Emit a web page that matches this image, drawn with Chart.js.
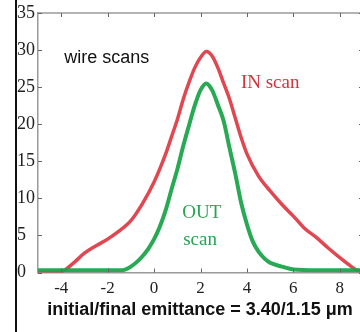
<!DOCTYPE html>
<html>
<head>
<meta charset="utf-8">
<script src="https://cdn.jsdelivr.net/npm/chart.js@4.4.1/dist/chart.umd.min.js"></script>
<style>
  html, body { margin: 0; padding: 0; background: #fff; overflow: hidden; width: 360px; height: 332px; }
  #wrap { position: relative; width: 366px; height: 332px; }
</style>
</head>
<body>
<div id="wrap"><canvas id="c" width="366" height="332"></canvas></div>
<script>
// ---- data ----
const xTickValues = [-4, -2, 0, 2, 4, 6, 8];
const yTickValues = [0, 5, 10, 15, 20, 25, 30, 35];

const inX = [-5, -4.5, -4, -3.5, -3, -2.5, -2, -1.5, -1, -0.5, 0, 0.5, 0.75, 1.0, 1.25, 1.5, 1.75, 2.0, 2.25, 2.5, 2.75, 3.0, 3.25, 3.5, 3.75, 4.0, 4.5, 5.0, 5.5, 6.0, 6.5, 7.0, 7.5, 8.0, 8.5, 8.75, 9.0];
const inScan = [0, 0, 0.1, 1.2, 2.6, 3.6, 4.5, 5.6, 7.0, 9.3, 12.2, 16.0, 18.3, 20.6, 23.3, 25.6, 27.6, 29.0, 29.8, 29.2, 27.6, 25.5, 23.4, 20.8, 18.2, 16.0, 13.0, 11.0, 9.2, 7.6, 5.9, 4.7, 3.3, 2.0, 0.8, 0.3, 0.2];

const outX = [-5, -4, -3, -2, -1.5, -1.25, -1.0, -0.75, -0.5, -0.25, 0, 0.25, 0.5, 0.75, 1.0, 1.25, 1.5, 1.75, 2.0, 2.25, 2.5, 2.75, 3.0, 3.25, 3.5, 3.75, 4.0, 4.25, 4.5, 4.75, 5.0, 5.5, 6.0, 7.0, 8.0, 9.0];
const outScan = [0.3, 0.3, 0.3, 0.3, 0.3, 0.4, 0.8, 1.4, 2.2, 3.2, 4.5, 6.2, 8.4, 11.2, 13.9, 17.0, 19.8, 22.5, 24.6, 25.5, 24.6, 22.6, 20.4, 16.8, 13.3, 9.4, 6.5, 4.2, 2.8, 1.9, 1.3, 0.8, 0.4, 0.3, 0.3, 0.3];

const labels = {
  wire: 'wire scans',
  inLabel: 'IN scan',
  out1: 'OUT',
  out2: 'scan',
  caption: 'initial/final emittance = 3.40/1.15 \u03bcm'
};

const RED = 'rgba(222,55,66,0.92)';
const GREEN = 'rgba(28,164,74,0.95)';
const AXIS = '#9a9a9a';

const toPts = (xs, ys) => xs.map((x, i) => ({ x: x, y: ys[i] }));

const decor = {
  id: 'decor',
  afterDraw(chart) {
    const { ctx, chartArea: a, scales: { x, y } } = chart;
    ctx.save();
    ctx.strokeStyle = AXIS;
    ctx.lineWidth = 1.5;
    ctx.beginPath();
    ctx.moveTo(a.left, a.top); ctx.lineTo(a.right, a.top);
    ctx.moveTo(a.right, a.top); ctx.lineTo(a.right, a.bottom);
    ctx.stroke();
    ctx.strokeStyle = '#666';
    ctx.lineWidth = 1;
    ctx.beginPath();
    xTickValues.forEach(v => {
      const px = Math.round(x.getPixelForValue(v)) + 0.5;
      ctx.moveTo(px, a.bottom); ctx.lineTo(px, a.bottom - 4);
      ctx.moveTo(px, a.top); ctx.lineTo(px, a.top + 4);
    });
    yTickValues.forEach(v => {
      const py = Math.round(y.getPixelForValue(v)) + 0.5;
      ctx.moveTo(a.left, py); ctx.lineTo(a.left + 4, py);
      ctx.moveTo(a.right, py); ctx.lineTo(a.right - 4, py);
    });
    ctx.stroke();
    ctx.fillStyle = '#111';
    ctx.fillRect(15, 0, 2, chart.height);
    ctx.textBaseline = 'alphabetic';
    ctx.fillStyle = '#111';
    ctx.font = '18px "Liberation Sans", Arial, sans-serif';
    ctx.textAlign = 'left';
    ctx.fillText(labels.wire, x.getPixelForValue(-3.87), y.getPixelForValue(28.3));
    ctx.fillStyle = '#d3323e';
    ctx.font = '19px "Liberation Serif", "Times New Roman", serif';
    ctx.fillText(labels.inLabel, x.getPixelForValue(3.74), y.getPixelForValue(24.9));
    ctx.fillStyle = '#27a452';
    ctx.textAlign = 'center';
    ctx.fillText(labels.out1, x.getPixelForValue(2.06), y.getPixelForValue(7.35));
    ctx.fillText(labels.out2, x.getPixelForValue(1.98), y.getPixelForValue(3.7));
    ctx.fillStyle = '#111';
    ctx.font = 'bold 18px "Liberation Sans", Arial, sans-serif';
    ctx.fillText(labels.caption, x.getPixelForValue(1.98), a.bottom + 42.5);
    ctx.restore();
  }
};

new Chart(document.getElementById('c'), {
  type: 'line',
  data: {
    datasets: [
      { label: 'OUT scan', data: toPts(outX, outScan), borderColor: GREEN, borderWidth: 4, pointRadius: 0, cubicInterpolationMode: 'monotone', order: 0 },
      { label: 'IN scan', data: toPts(inX, inScan), borderColor: RED, borderWidth: 3.5, pointRadius: 0, cubicInterpolationMode: 'monotone', order: 1 }
    ]
  },
  options: {
    responsive: false,
    animation: false,
    layout: { padding: { left: 17, top: 13, right: 3, bottom: 0 } },
    plugins: { legend: { display: false }, tooltip: { enabled: false }, title: { display: false } },
    scales: {
      x: {
        type: 'linear', min: -5, max: 9,
        afterBuildTicks: s => { s.ticks = xTickValues.map(v => ({ value: v })); },
        afterFit: s => { s.height = 59.5; },
        grid: { drawOnChartArea: false, drawTicks: false },
        border: { display: true, color: AXIS, width: 1.5 },
        ticks: { color: '#222', padding: 6, maxRotation: 0, font: { family: '"Liberation Serif", "Times New Roman", serif', size: 17 } }
      },
      y: {
        min: 0, max: 35,
        afterBuildTicks: s => { s.ticks = yTickValues.map(v => ({ value: v })); },
        afterFit: s => { s.width = 21; },
        grid: { drawOnChartArea: false, drawTicks: false },
        border: { display: true, color: AXIS, width: 1.5 },
        ticks: { color: '#222', padding: 2, crossAlign: 'far', font: { family: '"Liberation Serif", "Times New Roman", serif', size: 18 } }
      }
    }
  },
  plugins: [decor]
});
</script>
</body>
</html>
